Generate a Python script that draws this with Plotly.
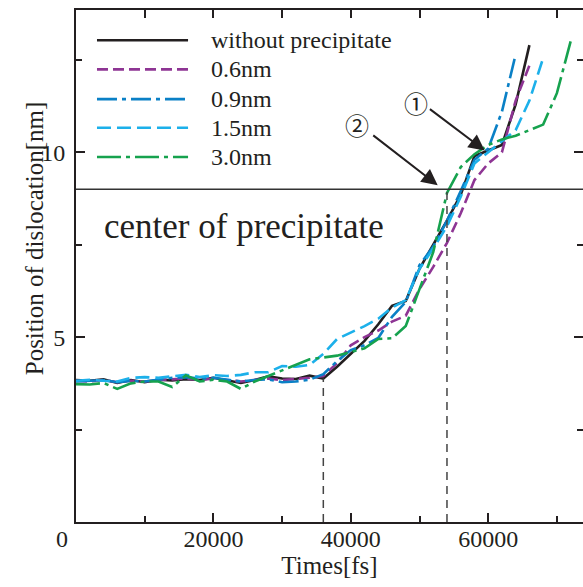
import plotly.graph_objects as go

# ---------------- data ----------------
times = [0, 2000, 4000, 6000, 8000, 10000, 12000, 14000, 16000, 18000,
         20000, 22000, 24000, 26000, 28000, 30000, 32000, 34000, 36000, 38000,
         40000, 42000, 44000, 46000, 48000, 50000, 52000, 54000, 56000, 58000,
         60000, 62000, 64000, 66000, 68000, 70000, 72000]

without_precipitate = [3.84, 3.82, 3.86, 3.76, 3.84, 3.78, 3.85, 3.83, 3.86, 3.84,
                       3.90, 3.84, 3.76, 3.84, 3.94, 3.88, 3.87, 3.96, 3.88, 4.20,
                       4.55, 4.90, 5.35, 5.85, 5.98, 6.85, 7.50, 8.15, 8.85, 9.90,
                       10.05, 10.20, 11.30, 12.90]
p06 = [3.82, 3.80, 3.84, 3.78, 3.82, 3.80, 3.84, 3.86, 3.88, 3.84,
       3.88, 3.84, 3.80, 3.84, 3.88, 3.84, 3.86, 3.90, 3.95, 4.30,
       4.78, 5.00, 5.18, 5.42, 5.58, 6.30, 6.90, 7.55, 8.35, 9.25,
       9.70, 10.00, 11.40, 12.35]
p09 = [3.80, 3.82, 3.84, 3.78, 3.82, 3.80, 3.86, 3.90, 3.92, 3.88,
       3.90, 3.85, 3.80, 3.84, 3.86, 3.78, 3.80, 3.85, 4.00, 4.35,
       4.65, 4.78, 4.98, 5.55, 5.95, 6.95, 7.45, 8.15, 8.95, 9.80,
       10.10, 11.10, 12.65]
p15 = [3.82, 3.85, 3.82, 3.80, 3.90, 3.92, 3.90, 3.95, 3.98, 3.92,
       3.97, 3.95, 3.98, 4.05, 4.05, 4.22, 4.20, 4.25, 4.55, 4.95,
       5.12, 5.30, 5.50, 5.80, 6.00, 6.85, 7.40, 8.00, 8.80, 9.70,
       10.00, 10.30, 10.60, 11.40, 12.55]
p30 = [3.73, 3.72, 3.76, 3.60, 3.75, 3.80, 3.80, 3.65, 3.97, 3.80,
       3.85, 3.80, 3.60, 3.80, 3.95, 4.10, 4.25, 4.40, 4.45, 4.50,
       4.60, 4.70, 4.95, 4.97, 5.30, 6.30, 7.30, 8.90, 9.60, 9.95,
       10.20, 10.35, 10.45, 10.60, 10.75, 11.60, 13.00]

series_names = ["without precipitate", "0.6nm", "0.9nm", "1.5nm", "3.0nm"]
series_values = [without_precipitate, p06, p09, p15, p30]

center_y = 9.0
marker_times = [36000, 54000]
marker_heights = [3.88, 9.0]

x_tick_vals = [20000, 40000, 60000]
x_tick_text = ["20000", "40000", "60000"]
x_minor_vals = [10000, 30000, 50000, 70000]
y_tick_vals = [5, 10]
y_tick_text = ["5", "10"]
y_minor_vals = [2.5, 7.5, 12.5]

# ---------------- styles ----------------
colors = ["#231f20", "#8e3594", "#0a80c6", "#1cb0ea", "#16a24e"]
dashes = ["solid", "11px,5px", "20px,5px,4px,5px", "14px,6px", "24px,5px,4px,5px"]
FONT = "Liberation Serif, Times New Roman, serif"
INK = "#231f20"

fig = go.Figure()
for name, vals, c, d in zip(series_names, series_values, colors, dashes):
    fig.add_trace(go.Scatter(x=times[:len(vals)], y=vals, mode="lines", name=name,
                             line=dict(color=c, width=2.6, dash=d),
                             showlegend=False))

# invisible trace to carry the mirror axes
fig.add_trace(go.Scatter(x=[None], y=[None], xaxis="x2", yaxis="y2",
                         showlegend=False, hoverinfo="skip"))

XMAX = 73800
YMAX = 13.85

shapes = []
shapes.append(dict(type="line", xref="paper", yref="y", x0=0, x1=1,
                   y0=center_y, y1=center_y, line=dict(color="#333333", width=1.5)))
for t, h in zip(marker_times, marker_heights):
    shapes.append(dict(type="line", xref="x", yref="y", x0=t, x1=t, y0=0, y1=h,
                       line=dict(color="#444444", width=1.5, dash="8px,6px")))

# manual legend
leg_y = [0.941, 0.884, 0.826, 0.770, 0.713]
annotations = []
for name, c, d, yy in zip(series_names, colors, dashes, leg_y):
    shapes.append(dict(type="line", xref="paper", yref="paper", x0=0.0414, x1=0.221,
                       y0=yy, y1=yy, line=dict(color=c, width=2.6, dash=d)))
    annotations.append(dict(xref="paper", yref="paper", x=0.262, y=yy, text=name,
                            showarrow=False, xanchor="left", yanchor="middle",
                            font=dict(family=FONT, size=24, color=INK)))

annotations.append(dict(x=3750, y=8.0, xref="x", yref="y", text="center of precipitate",
                        showarrow=False, xanchor="left", yanchor="middle",
                        font=dict(family=FONT, size=35, color=INK)))
# arrows
annotations.append(dict(x=59500, y=10.05, ax=51300, ay=11.2, axref="x", ayref="y",
                        xref="x", yref="y", text="", showarrow=True, arrowhead=2,
                        arrowsize=1.6, arrowwidth=2, arrowcolor=INK))
annotations.append(dict(x=52650, y=9.11, ax=43050, ay=10.49, axref="x", ayref="y",
                        xref="x", yref="y", text="", showarrow=True, arrowhead=2,
                        arrowsize=1.6, arrowwidth=2, arrowcolor=INK))
annotations.append(dict(x=49500, y=11.35, xref="x", yref="y", text="①", showarrow=False,
                        font=dict(family="Noto Sans CJK JP", size=24, color=INK)))
annotations.append(dict(x=40900, y=10.76, xref="x", yref="y", text="②", showarrow=False,
                        font=dict(family="Noto Sans CJK JP", size=24, color=INK)))
# origin label
annotations.append(dict(x=-0.028, y=0, xref="paper", yref="paper", text="0",
                        showarrow=False, xanchor="center", yanchor="top", yshift=-2,
                        font=dict(family=FONT, size=24, color=INK)))
# y-axis title
annotations.append(dict(x=-0.082, y=0.555, xref="paper", yref="paper",
                        text="Position of dislocation[nm]", textangle=-90,
                        showarrow=False, xanchor="center", yanchor="middle",
                        font=dict(family=FONT, size=25, color=INK)))

fig.update_layout(
    width=583, height=587,
    margin=dict(l=76, r=0, t=10, b=65),
    paper_bgcolor="white", plot_bgcolor="white",
    font=dict(family=FONT, size=24, color=INK),
    showlegend=False,
    shapes=shapes, annotations=annotations,
    xaxis=dict(range=[0, XMAX], showgrid=False, zeroline=False,
               showline=True, linecolor=INK, linewidth=2,
               tickmode="array", tickvals=x_tick_vals, ticktext=x_tick_text,
               ticks="inside", ticklen=9, tickwidth=2, tickcolor=INK,
               ticklabelstandoff=-6,
               minor=dict(tickvals=x_minor_vals, ticks="inside", ticklen=6,
                          tickwidth=2, tickcolor=INK, showgrid=False),
               title=dict(text="Times[fs]", standoff=4,
                          font=dict(family=FONT, size=25, color=INK)),
               tickfont=dict(family=FONT, size=24, color=INK)),
    xaxis2=dict(range=[0, XMAX], overlaying="x", side="top", matches="x",
                showgrid=False, zeroline=False, showline=True, linecolor=INK,
                linewidth=2, tickmode="array",
                tickvals=[10000, 20000, 30000, 40000, 50000, 60000, 70000],
                ticks="inside", ticklen=8, tickwidth=2, tickcolor=INK,
                showticklabels=False),
    yaxis=dict(range=[0, YMAX], showgrid=False, zeroline=False,
               showline=True, linecolor=INK, linewidth=2,
               tickmode="array", tickvals=y_tick_vals, ticktext=y_tick_text,
               ticks="inside", ticklen=9, tickwidth=2, tickcolor=INK,
               ticklabelstandoff=4,
               minor=dict(tickvals=y_minor_vals, ticks="inside", ticklen=6,
                          tickwidth=2, tickcolor=INK, showgrid=False),
               tickfont=dict(family=FONT, size=24, color=INK)),
    yaxis2=dict(range=[0, YMAX], overlaying="y", side="right", matches="y",
                showgrid=False, zeroline=False, showline=False,
                tickmode="array", tickvals=y_tick_vals, ticks="inside",
                ticklen=9, tickwidth=2, tickcolor=INK, showticklabels=False,
                minor=dict(tickvals=y_minor_vals, ticks="inside", ticklen=6,
                           tickwidth=2, tickcolor=INK)),
)

fig.write_html("out.html")
